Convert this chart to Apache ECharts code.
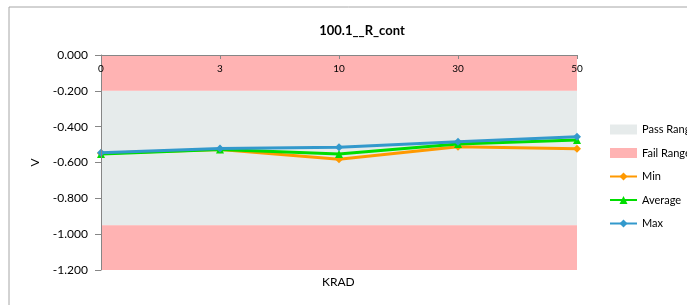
<!DOCTYPE html>
<html>
<head>
<meta charset="utf-8">
<script src="https://cdn.jsdelivr.net/npm/echarts@6/dist/echarts.min.js"></script>
<style>
html, body { margin: 0; padding: 0; background: #fff; }
#chart { width: 687px; height: 305px; }
</style>
</head>
<body>
<div id="chart"></div>
<script>
// data
var krad = ['0', '3', '10', '30', '50']
var minVals = [-0.548, -0.528, -0.582, -0.512, -0.523]
var avgVals = [-0.553, -0.528, -0.553, -0.497, -0.475]
var maxVals = [-0.545, -0.522, -0.515, -0.484, -0.456]
var passRange = [-0.2, -0.95]
var failRanges = [[0, -0.2], [-0.95, -1.2]]

var font = 'Lato, "Open Sans", sans-serif'

var chart = echarts.init(document.getElementById('chart'))

var option = {
  animation: false,
  textStyle: { fontFamily: font },
  title: {
    text: '100.1__R_cont',
    left: 357,
    top: 19,
    textAlign: 'center',
    textStyle: { fontSize: 13, fontWeight: 'bold', color: '#000', fontFamily: font }
  },
  graphic: [
    {
      type: 'rect',
      shape: { x: 9, y: 7, width: 700, height: 320 },
      style: { fill: 'none', stroke: '#a6a6a6', lineWidth: 1 },
      silent: true
    },
    {
      type: 'text',
      left: 322,
      top: 276,
      style: { text: 'KRAD', fill: '#000', font: '12px ' + font }
    }
  ],
  legend: {
    orient: 'vertical',
    left: 604,
    top: 119,
    itemWidth: 27,
    itemHeight: 10,
    itemGap: 12.5,
    textStyle: { fontSize: 11, color: '#000', fontFamily: font },
    data: [
      { name: 'Pass Range', icon: 'rect', itemStyle: { color: '#e6ebeb' } },
      { name: 'Fail Range', icon: 'rect', itemStyle: { color: '#ffb3b3' } },
      'Min', 'Average', 'Max'
    ]
  },
  grid: { left: 101, right: 110, top: 55, bottom: 35, containLabel: false },
  xAxis: {
    type: 'category',
    position: 'top',
    data: krad,
    boundaryGap: false,
    z: 10,
    axisLine: { show: true, lineStyle: { color: '#868686' } },
    axisTick: { show: true, inside: true, length: 4, lineStyle: { color: '#868686' } },
    axisLabel: { inside: true, margin: 9, fontSize: 10, color: '#000', fontFamily: font, showMinLabel: true, showMaxLabel: true },
    splitLine: { show: false }
  },
  yAxis: {
    type: 'value',
    min: -1.2,
    max: 0,
    interval: 0.2,
    z: 10,
    name: 'V',
    nameLocation: 'middle',
    nameGap: 60,
    nameTextStyle: { fontSize: 12, color: '#000', fontFamily: font },
    axisLine: { show: true, lineStyle: { color: '#868686' } },
    axisTick: { show: true, length: 6, lineStyle: { color: '#868686' } },
    axisLabel: {
      margin: 13,
      fontSize: 12,
      color: '#000',
      fontFamily: font,
      formatter: function (v) { return v.toFixed(3) }
    },
    splitLine: { show: false }
  },
  series: [
    {
      name: 'Pass Range',
      type: 'line',
      data: [],
      z: 1,
      itemStyle: { color: '#e6ebeb' },
      markArea: {
        silent: true,
        itemStyle: { color: '#e6ebeb' },
        data: [[{ yAxis: passRange[0] }, { yAxis: passRange[1] }]]
      }
    },
    {
      name: 'Fail Range',
      type: 'line',
      data: [],
      z: 1,
      itemStyle: { color: '#ffb3b3' },
      markArea: {
        silent: true,
        itemStyle: { color: '#ffb3b3' },
        data: failRanges.map(function (r) { return [{ yAxis: r[0] }, { yAxis: r[1] }] })
      }
    },
    {
      name: 'Min',
      type: 'line',
      data: minVals,
      z: 3,
      symbol: 'diamond',
      symbolSize: 8,
      lineStyle: { width: 3, color: '#ff9900' },
      itemStyle: { color: '#ff9900' }
    },
    {
      name: 'Average',
      type: 'line',
      data: avgVals,
      z: 4,
      symbol: 'triangle',
      symbolSize: 8,
      lineStyle: { width: 3, color: '#00dd00' },
      itemStyle: { color: '#00dd00' }
    },
    {
      name: 'Max',
      type: 'line',
      data: maxVals,
      z: 5,
      symbol: 'diamond',
      symbolSize: 8,
      lineStyle: { width: 3, color: '#3399cc' },
      itemStyle: { color: '#3399cc' }
    }
  ]
}

chart.setOption(option)
</script>
</body>
</html>
